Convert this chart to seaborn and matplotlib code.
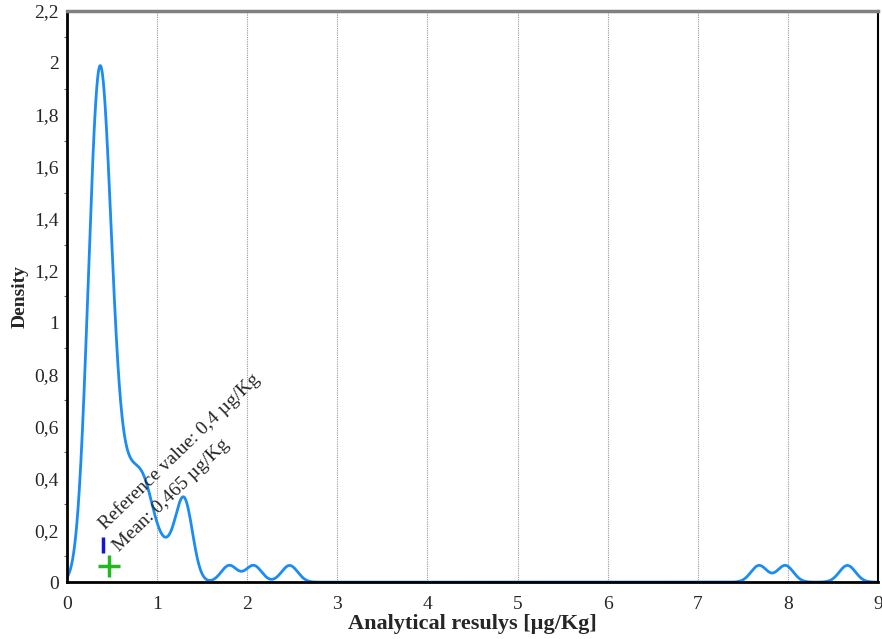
import numpy as np
import pandas as pd
import matplotlib
matplotlib.use("Agg")
import matplotlib.pyplot as plt
import seaborn as sns
from matplotlib.ticker import FuncFormatter, MultipleLocator

# analytical results (µg/Kg) and how many labs reported each value
values = [0.20, 0.25, 0.30, 0.35, 0.40, 0.45, 0.50, 0.55,
          0.60, 0.66, 0.74, 0.82, 0.90, 0.96,
          1.05, 1.15, 1.27, 1.32,
          1.80, 2.07, 2.47, 7.68, 7.97, 8.66]
counts = [2, 4, 8, 9, 9, 6, 4, 2,
          1, 3, 2, 3, 2, 1,
          1, 1, 2, 3,
          1, 1, 1, 1, 1, 1]

ref_value = 0.4
mean_value = 0.465
ref_label = "Reference value: 0,4 µg/Kg"
mean_label = "Mean: 0,465 µg/Kg"

results = np.repeat(values, counts)
df = pd.DataFrame({"result": results})
bw = 0.09 / np.std(results, ddof=1)

sns.set_style("white")
plt.rcParams["font.family"] = ["Liberation Serif", "DejaVu Serif"]

fig = plt.figure(figsize=(8.82, 6.39), dpi=100)
ax = fig.add_axes([0.076, 0.089, 0.9195, 0.894])

sns.kdeplot(data=df, x="result", bw_method=bw, cut=10, clip=(0, 9),
            gridsize=3000, color="#1a8cf5", linewidth=2, ax=ax)

# markers for reference value and mean
ax.plot([ref_value], [0.143], marker="|", color="#1515d8", markersize=12, mew=2.5, ls="none")
ax.plot([mean_value], [0.062], marker="+", color="#22b822", markersize=16, mew=2.5, ls="none")
ax.text(0.42, 0.2, ref_label, rotation=44, rotation_mode="anchor",
        ha="left", va="baseline", fontsize=14)
ax.text(0.58, 0.115, mean_label, rotation=44, rotation_mode="anchor",
        ha="left", va="baseline", fontsize=14)

ax.set_xlim(0, 9)
ax.set_ylim(0, 2.2)
ax.xaxis.set_major_locator(MultipleLocator(1))
ax.yaxis.set_major_locator(MultipleLocator(0.2))
ax.yaxis.set_minor_locator(MultipleLocator(0.1))
fmt = FuncFormatter(lambda v, p: f"{v:g}".replace(".", ","))
ax.xaxis.set_major_formatter(fmt)
ax.yaxis.set_major_formatter(fmt)
ax.tick_params(axis="both", which="major", direction="out", length=4, width=1,
               labelsize=14, color="#444444", pad=2)
ax.tick_params(axis="x", which="major", pad=6)
ax.tick_params(axis="y", which="minor", direction="out", length=2, width=0.8,
               color="#666666", left=True)

ax.grid(axis="x", color="#999999", linestyle=(0, (1, 1)), linewidth=0.8)
ax.grid(axis="y", visible=False)

for side in ["left", "bottom"]:
    ax.spines[side].set_color("black")
    ax.spines[side].set_linewidth(2)
ax.spines["right"].set_color("black")
ax.spines["right"].set_linewidth(1.5)
ax.spines["top"].set_color("#808080")
ax.spines["top"].set_linewidth(2.5)

ax.set_xlabel("Analytical resulys [µg/Kg]", fontsize=16, fontweight="bold", labelpad=1)
ax.set_ylabel("Density", fontsize=14, fontweight="bold", labelpad=4)

fig.savefig("out.png", dpi=100)
